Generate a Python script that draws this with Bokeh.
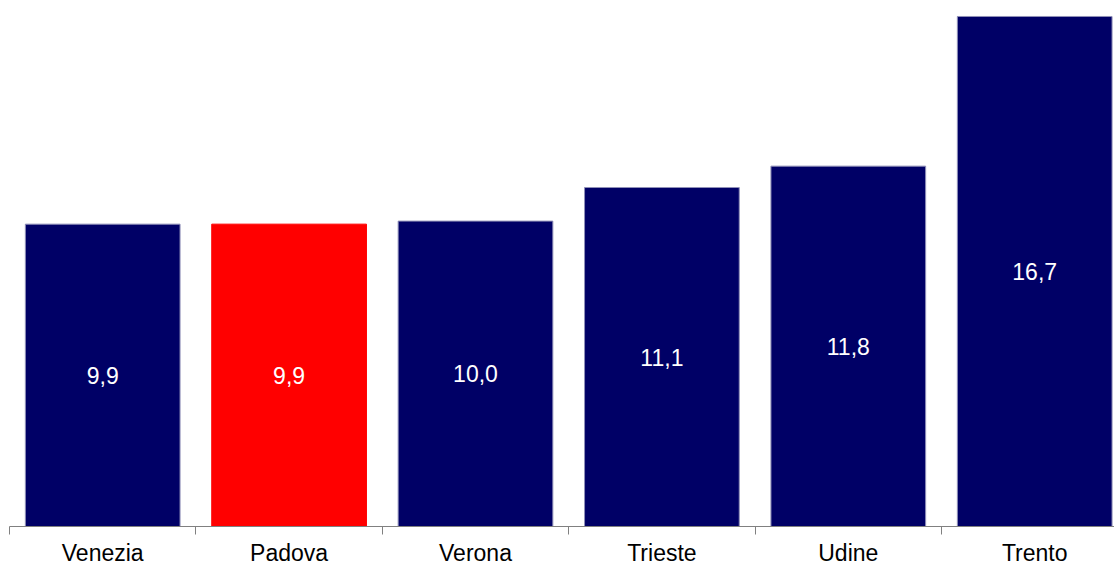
from bokeh.plotting import figure
from bokeh.models import ColumnDataSource, Range1d, LinearAxis, FixedTicker
from bokeh.embed import file_html
from bokeh.resources import INLINE
from bokeh.core.properties import value

categories = ["Venezia", "Padova", "Verona", "Trieste", "Udine", "Trento"]
values = [9.9, 9.9, 10.0, 11.1, 11.8, 16.7]
bar_colors = ["#000066", "#ff0000", "#000066", "#000066", "#000066", "#000066"]
edge_colors = ["#9090b8", "#ff0000", "#9090b8", "#9090b8", "#9090b8", "#9090b8"]

x = [i + 0.5 for i in range(len(categories))]
labels = [f"{v:.1f}".replace(".", ",") for v in values]
src = ColumnDataSource(dict(x=x, top=values, mid=[v / 2 for v in values],
                            color=bar_colors, edge=edge_colors, label=labels))

CAT_PX = 186.4
FW = 1105
FH = 526
p = figure(frame_width=FW, frame_height=FH,
           x_range=Range1d(0, FW / CAT_PX), y_range=Range1d(0, FH / 30.54),
           output_backend="svg", toolbar_location=None,
           x_axis_location=None, y_axis_location=None,
           min_border_left=9, min_border_right=0, min_border_top=0, min_border_bottom=0)
p.outline_line_color = None
p.xgrid.visible = False
p.ygrid.visible = False
p.background_fill_color = "white"
p.border_fill_color = "white"

p.vbar(x="x", top="top", bottom=0, width=0.83, fill_color="color",
       line_color="edge", line_width=1, source=src)
p.text(x="x", y="mid", text="label", text_align="center", text_baseline="middle",
       text_color="white", text_font=value("Liberation Sans"), text_font_size="23px",
       source=src)

ticker = FixedTicker(ticks=x, minor_ticks=list(range(len(categories) + 1)))
axis = LinearAxis(ticker=ticker,
                  major_label_overrides={xi: c for xi, c in zip(x, categories)},
                  major_tick_line_color=None, major_tick_out=0, major_tick_in=0,
                  minor_tick_out=8, minor_tick_in=0, minor_tick_line_color="#808080",
                  axis_line_color="#808080", axis_line_width=1,
                  major_label_text_font="Liberation Sans",
                  major_label_text_font_size="23px",
                  major_label_text_color="black", major_label_standoff=5)
p.add_layout(axis, "below")

open("out.html", "w").write(file_html(p, INLINE))
